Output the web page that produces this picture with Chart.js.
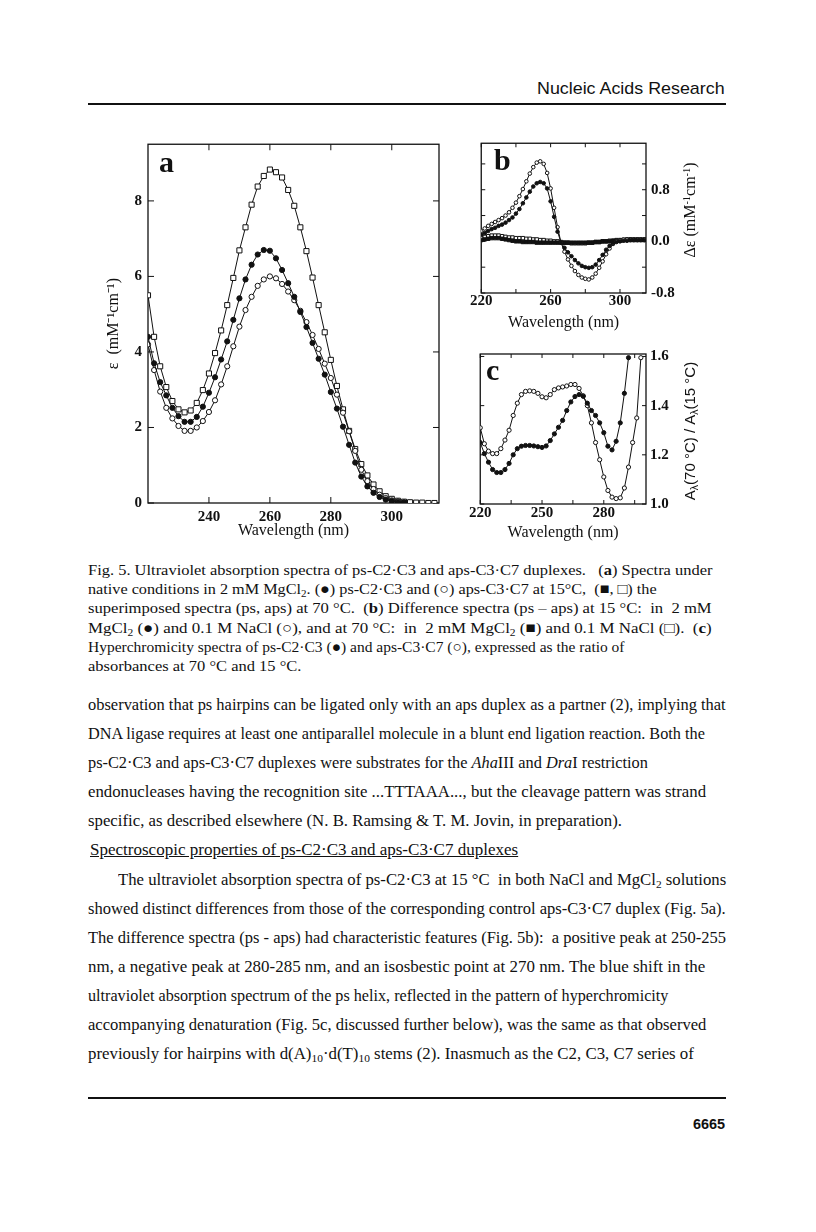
<!DOCTYPE html>
<html>
<head>
<meta charset="utf-8">
<title>Fig. 5 - UV spectra of ps-C2.C3 and aps-C3.C7</title>
<script src="https://cdn.jsdelivr.net/npm/chart.js@4.4.1/dist/chart.umd.min.js"></script>
<style>
  html, body { margin: 0; padding: 0; background: #fff; }
  body { position: relative; width: 816px; height: 1232px; overflow: hidden; color: #111;
         font-family: 'Liberation Serif', 'Times New Roman', serif; }
  canvas { position: absolute; }
  .ln { position: absolute; white-space: pre; line-height: 1; transform-origin: 0 0; }
  .ln sub { font-size: 0.68em; vertical-align: -0.3em; line-height: 0; }
  .cap { font-size: 15.5px; }
  .body { font-size: 16.5px; }
  .sans { font-family: 'Liberation Sans', Arial, sans-serif; }
  .head { font-size: 17px; }
  .pnum { font-size: 14px; font-weight: bold; }
  .plab { font-size: 30px; font-weight: bold; }
  .rule { position: absolute; left: 88px; width: 638px; height: 2px; background: #111; }
  .ytitle { position: absolute; white-space: nowrap; font-size: 16px; line-height: 18px;
            transform: translate(-50%, -50%) rotate(-90deg); }
  .ytitle sup { font-size: 0.65em; vertical-align: 0.5em; line-height: 0; }
  .ytitle sub { font-size: 0.7em; vertical-align: -0.3em; line-height: 0; }
</style>
</head>
<body>

<div class="ln sans head" data-x="537" data-b="94" data-r="725">Nucleic Acids Research</div>
<div class="rule" style="top:103px"></div>

<canvas id="chartA" width="350" height="410" style="left:100px;top:130px"></canvas>
<canvas id="chartB" width="230" height="202" style="left:470px;top:130px"></canvas>
<canvas id="chartC" width="232" height="202" style="left:468px;top:340px"></canvas>

<div class="ln plab" data-x="159" data-b="172">a</div>
<div class="ln plab" data-x="494" data-b="170">b</div>
<div class="ln plab" data-x="486" data-b="380">c</div>

<div class="ytitle" style="left:690px;top:210px">Δε  (mM<sup>-1</sup>cm<sup>-1</sup>)</div>
<div class="ytitle sans" style="left:690px;top:431px;font-size:15px">A<sub>λ</sub>(70 °C) / A<sub>λ</sub>(15 °C)</div>

<div class="ln cap" data-x="88" data-b="575" data-r="712">Fig. 5. Ultraviolet absorption spectra of ps-C2·C3 and aps-C3·C7 duplexes.   (<b>a</b>) Spectra under</div>
<div class="ln cap" data-x="88" data-b="594" data-r="657">native conditions in 2 mM MgCl<sub>2</sub>. (●) ps-C2·C3 and (○) aps-C3·C7 at 15°C,  (■, □) the</div>
<div class="ln cap" data-x="88" data-b="613" data-r="712">superimposed spectra (ps, aps) at 70 °C.  (<b>b</b>) Difference spectra (ps – aps) at 15 °C:  in  2 mM</div>
<div class="ln cap" data-x="88" data-b="633" data-r="712">MgCl<sub>2</sub> (●) and 0.1 M NaCl (○), and at 70 °C:  in  2 mM MgCl<sub>2</sub> (■) and 0.1 M NaCl (□).  (<b>c</b>)</div>
<div class="ln cap" data-x="88" data-b="652">Hyperchromicity spectra of ps-C2·C3 (●) and aps-C3·C7 (○), expressed as the ratio of</div>
<div class="ln cap" data-x="88" data-b="671" data-r="302">absorbances at 70 °C and 15 °C.</div>

<div class="ln body" data-x="88" data-b="711" data-r="726">observation that ps hairpins can be ligated only with an aps duplex as a partner (2), implying that</div>
<div class="ln body" data-x="88" data-b="740" data-r="705">DNA ligase requires at least one antiparallel molecule in a blunt end ligation reaction. Both the</div>
<div class="ln body" data-x="88" data-b="769" data-r="648">ps-C2·C3 and aps-C3·C7 duplexes were substrates for the <i>Aha</i>III and <i>Dra</i>I restriction</div>
<div class="ln body" data-x="88" data-b="798" data-r="706">endonucleases having the recognition site ...TTTAAA..., but the cleavage pattern was strand</div>
<div class="ln body" data-x="88" data-b="827" data-r="622">specific, as described elsewhere (N. B. Ramsing &amp; T. M. Jovin, in preparation).</div>
<div class="ln body" data-x="90" data-b="856" data-r="518"><u>Spectroscopic properties of ps-C2·C3 and aps-C3·C7 duplexes</u></div>
<div class="ln body" data-x="118" data-b="886" data-r="726">The ultraviolet absorption spectra of ps-C2·C3 at 15 °C  in both NaCl and MgCl<sub>2</sub> solutions</div>
<div class="ln body" data-x="88" data-b="915" data-r="726">showed distinct differences from those of the corresponding control aps-C3·C7 duplex (Fig. 5a).</div>
<div class="ln body" data-x="88" data-b="944" data-r="726">The difference spectra (ps - aps) had characteristic features (Fig. 5b):  a positive peak at 250-255</div>
<div class="ln body" data-x="88" data-b="973" data-r="705">nm, a negative peak at 280-285 nm, and an isosbestic point at 270 nm. The blue shift in the</div>
<div class="ln body" data-x="88" data-b="1002" data-r="668">ultraviolet absorption spectrum of the ps helix, reflected in the pattern of hyperchromicity</div>
<div class="ln body" data-x="88" data-b="1031" data-r="706">accompanying denaturation (Fig. 5c, discussed further below), was the same as that observed</div>
<div class="ln body" data-x="88" data-b="1060" data-r="694">previously for hairpins with d(A)<sub>10</sub>·d(T)<sub>10</sub> stems (2). Inasmuch as the C2, C3, C7 series of</div>

<div class="rule" style="top:1097px"></div>
<div class="ln sans pnum" data-x="693" data-b="1129" data-r="725">6665</div>

<script>
// wavelengths (nm), 2 nm steps
var wavelengths = [220,222,224,226,228,230,232,234,236,238,240,242,244,246,248,250,252,254,256,258,
                   260,262,264,266,268,270,272,274,276,278,280,282,284,286,288,290,292,294,296,298,
                   300,302,304,306,308,310,312,314];
var wavelengthsC = [220,222,224,226,228,230,232,234,236,238,240,242,244,246,248,250,252,254,256,258,
                    260,262,264,266,268,270,272,274,276,278,280,282,284,286,288,290,292,294,296,298];

// (a) epsilon, mM-1 cm-1, 2 mM MgCl2
var a70 = [5.5,4.4,3.62,3.07,2.7,2.48,2.4,2.45,2.65,2.99,3.43,3.97,4.57,5.24,5.96,6.69,7.3,7.9,8.38,8.66,
           8.83,8.76,8.62,8.29,7.87,7.3,6.67,5.97,5.24,4.52,3.79,3.1,2.48,1.91,1.43,1.03,0.73,0.49,0.31,0.18,
           0.11,0.06,0.035,0.02,0.01,0.01,0.0,0.0];
var aPs15 = [4.4,3.7,3.2,2.85,2.52,2.3,2.15,2.15,2.28,2.55,2.92,3.33,3.8,4.28,4.85,5.42,5.92,6.31,6.58,6.7,
             6.68,6.48,6.17,5.82,5.46,5.06,4.66,4.24,3.82,3.4,2.94,2.5,2.02,1.54,1.07,0.7,0.44,0.27,0.16,0.09,
             0.05,0.02,0.01];
var aAps15 = [4.2,3.52,2.95,2.52,2.24,2.04,1.91,1.91,2.0,2.17,2.41,2.72,3.14,3.62,4.15,4.67,5.11,5.46,5.75,5.92,
              6.0,5.95,5.8,5.6,5.37,5.09,4.79,4.45,4.08,3.69,3.31,2.87,2.39,1.9,1.38,0.88,0.58,0.37,0.22,0.13,
              0.07,0.04,0.02];
var aXTicks = [240,260,280,300];
var aYTicks = [0,2,4,6,8];

// (b) difference spectra ps - aps
var bMg15 = [0.1,0.13,0.16,0.19,0.21,0.24,0.26,0.29,0.33,0.37,0.43,0.5,0.59,0.68,0.77,0.85,0.9,0.92,0.9,0.82,
             0.62,0.38,0.15,-0.02,-0.1,-0.17,-0.23,-0.29,-0.34,-0.38,-0.4,-0.41,-0.4,-0.36,-0.29,-0.21,-0.13,-0.07,-0.03,-0.01,
             0.0,0.01,0.01,0.02,0.02,0.02,0.02,0.02];
var bNa15 = [0.16,0.2,0.24,0.27,0.3,0.33,0.36,0.4,0.45,0.52,0.6,0.7,0.81,0.93,1.05,1.15,1.22,1.24,1.2,1.06,
             0.82,0.52,0.22,-0.02,-0.16,-0.28,-0.38,-0.46,-0.52,-0.56,-0.58,-0.59,-0.56,-0.5,-0.41,-0.31,-0.2,-0.11,-0.04,0.0,
             0.02,0.03,0.03,0.03,0.03,0.03,0.03,0.03];
var bMg70 = [0.02,0.03,0.04,0.05,0.05,0.05,0.04,0.03,0.02,0.01,0.0,0.0,-0.01,-0.01,-0.01,-0.01,-0.02,-0.02,-0.02,-0.02,
             -0.02,-0.02,-0.02,-0.02,-0.02,-0.02,-0.02,-0.02,-0.02,-0.02,-0.02,-0.02,-0.02,-0.01,-0.01,0.0,0.0,0.0,0.01,0.01,
             0.01,0.02,0.02,0.02,0.02,0.02,0.02,0.02];
var bNa70 = [0.06,0.07,0.08,0.09,0.09,0.09,0.08,0.07,0.06,0.06,0.05,0.05,0.05,0.04,0.04,0.03,0.03,0.02,0.02,0.01,
             0.01,0.0,0.0,-0.01,-0.02,-0.02,-0.03,-0.03,-0.03,-0.03,-0.03,-0.02,-0.02,-0.01,-0.01,0.0,0.0,0.01,0.01,0.02,
             0.02,0.02,0.03,0.03,0.03,0.03,0.03,0.03];
var bXTicks = [220,240,260,280,300];
var bXLabels = [220,260,300];
var bYTicks = [-0.8,-0.4,0,0.4,0.8,1.2];
var bYLabels = [-0.8,0,0.8];

// (c) hyperchromicity A(70 C)/A(15 C)
var cPs = [1.25,1.205,1.17,1.14,1.128,1.128,1.14,1.165,1.2,1.225,1.235,1.238,1.238,1.236,1.233,1.23,1.236,1.258,1.285,1.312,
           1.34,1.38,1.415,1.437,1.445,1.438,1.41,1.38,1.36,1.33,1.29,1.235,1.22,1.255,1.33,1.45,1.595];
var cAps = [1.31,1.245,1.215,1.205,1.205,1.225,1.26,1.3,1.36,1.41,1.445,1.458,1.46,1.458,1.45,1.436,1.432,1.445,1.465,1.472,
            1.476,1.48,1.486,1.486,1.47,1.44,1.4,1.33,1.25,1.18,1.11,1.055,1.028,1.022,1.025,1.065,1.15,1.25,1.35,1.595];
var cXTicks = [220,235,250,265,280,295];
var cXLabels = [220,250,280];
var cYTicks = [1.0,1.2,1.4,1.6];

var ink = '#111';
var serif = "'Liberation Serif', 'Times New Roman', serif";
var tickFont = {family: serif, size: 15, weight: 'bold', lineHeight: 1.1};

// place the page text lines, squeeze each one to the width of the scan
document.querySelectorAll('.ln').forEach(function(el) {
  var fs = parseFloat(getComputedStyle(el).fontSize);
  var k = el.classList.contains('sans') ? 0.8465 : 0.8375;
  el.style.left = el.dataset.x + 'px';
  el.style.top = (parseFloat(el.dataset.b) - k * fs) + 'px';
  if (el.dataset.r) {
    var w = el.offsetWidth;
    el.style.transform = 'scaleX(' + ((el.dataset.r - el.dataset.x) / w).toFixed(4) + ')';
  }
});

// box round the plot with inward tick marks on all four sides
var frameTicks = {
  id: 'frameTicks',
  beforeDatasetsDraw: function(chart, args, opts) {
    var ctx = chart.ctx, a = chart.chartArea, len = opts.len || 5;
    var xs = chart.scales.x, ys = chart.scales.y;
    ctx.save();
    ctx.strokeStyle = ink;
    ctx.lineWidth = 1;
    ctx.beginPath();
    xs.ticks.forEach(function(t) {
      var p = xs.getPixelForValue(t.value);
      ctx.moveTo(p, a.bottom); ctx.lineTo(p, a.bottom - len);
      ctx.moveTo(p, a.top); ctx.lineTo(p, a.top + len);
    });
    ys.ticks.forEach(function(t) {
      var p = ys.getPixelForValue(t.value);
      ctx.moveTo(a.left, p); ctx.lineTo(a.left + len, p);
      ctx.moveTo(a.right, p); ctx.lineTo(a.right - len, p);
    });
    ctx.stroke();
    ctx.lineWidth = opts.lw || 1.3;
    ctx.strokeRect(a.left, a.top, a.right - a.left, a.bottom - a.top);
    ctx.restore();
  }
};

function hasValue(list, v) {
  return list.some(function(l) { return Math.abs(l - v) < 1e-9; });
}

function series(label, xs, ys, style, filled, r) {
  return {
    label: label,
    data: ys.map(function(y, i) { return {x: xs[i], y: y}; }),
    showLine: true, tension: 0,
    borderColor: ink, borderWidth: 1,
    pointStyle: style, pointRadius: r, pointBorderWidth: 1,
    pointBorderColor: ink,
    pointBackgroundColor: filled ? ink : '#fff'
  };
}

function xAxis(min, max, ticks, labels, h, pad) {
  return {
    type: 'linear', position: 'bottom', min: min, max: max,
    grid: {display: false, drawTicks: false}, border: {display: false},
    afterBuildTicks: function(s) { s.ticks = ticks.map(function(v) { return {value: v}; }); },
    afterFit: function(s) { s.height = h; },
    ticks: {
      autoSkip: false, maxRotation: 0, padding: pad, color: ink, font: tickFont,
      callback: function(v) { return hasValue(labels, v) ? String(v) : ''; }
    },
    title: {display: true, text: 'Wavelength (nm)', color: ink, padding: 0,
            font: {family: serif, size: 16, lineHeight: 1.1}}
  };
}

function yAxis(pos, min, max, ticks, labels, w, pad, fmt) {
  return {
    type: 'linear', position: pos, min: min, max: max,
    grid: {display: false, drawTicks: false}, border: {display: false},
    afterBuildTicks: function(s) { s.ticks = ticks.map(function(v) { return {value: v}; }); },
    afterFit: function(s) { s.width = w; },
    ticks: {
      autoSkip: false, padding: pad, color: ink, font: tickFont,
      callback: function(v) { return hasValue(labels, v) ? fmt(v) : ''; }
    }
  };
}

function baseOptions(padding, scales, tickLen) {
  return {
    responsive: false,
    animation: false,
    layout: {padding: padding},
    plugins: {legend: {display: false}, tooltip: {enabled: false}, frameTicks: {len: tickLen}},
    scales: scales
  };
}

// panel a
var yA = yAxis('left', 0, 9.5, aYTicks, aYTicks, 48, 6, function(v) { return String(v); });
yA.title = {display: true, text: 'ε  (mM⁻¹cm⁻¹)', color: ink, padding: {top: 4, bottom: 0},
            font: {family: serif, size: 16, lineHeight: 1.2}};
var xA = xAxis(220, 315.5, aXTicks, aXTicks, 37, 6);
xA.title.font = {family: serif, size: 16, lineHeight: 1.2};

new Chart(document.getElementById('chartA').getContext('2d'), {
  type: 'scatter',
  data: {
    datasets: [
      series('ps-C2·C3, 15 °C', wavelengths, aPs15, 'circle', true, 2.6),
      series('aps-C3·C7, 15 °C', wavelengths, aAps15, 'circle', false, 2.6),
      series('ps, aps, 70 °C', wavelengths, a70, 'rect', false, 3.6)
    ]
  },
  options: baseOptions({top: 12, right: 11, left: 0, bottom: 0}, {x: xA, y: yA}, 6),
  plugins: [frameTicks]
});

// panel b
new Chart(document.getElementById('chartB').getContext('2d'), {
  type: 'scatter',
  data: {
    datasets: [
      series('2 mM MgCl2, 15 °C', wavelengths, bMg15, 'circle', true, 1.8),
      series('0.1 M NaCl, 15 °C', wavelengths, bNa15, 'circle', false, 1.8),
      series('2 mM MgCl2, 70 °C', wavelengths, bMg70, 'rect', true, 2.4),
      series('0.1 M NaCl, 70 °C', wavelengths, bNa70, 'rect', false, 2.4)
    ]
  },
  options: baseOptions({top: 13, right: 0, left: 11, bottom: 0}, {
    x: xAxis(220, 315, bXTicks, bXLabels, 39, 0),
    y: yAxis('right', -0.8, 1.52, bYTicks, bYLabels, 54, 5, function(v) { return v.toFixed(1); })
  }, 4),
  plugins: [frameTicks]
});

// panel c
new Chart(document.getElementById('chartC').getContext('2d'), {
  type: 'scatter',
  data: {
    datasets: [
      series('ps-C2·C3', wavelengthsC, cPs, 'circle', true, 2.1),
      series('aps-C3·C7', wavelengthsC, cAps, 'circle', false, 2.1)
    ]
  },
  options: baseOptions({top: 14, right: 0, left: 10, bottom: 0}, {
    x: xAxis(220, 300.5, cXTicks, cXLabels, 38, 1),
    y: yAxis('right', 1.0, 1.61, cYTicks, cYTicks, 54, 4, function(v) { return v.toFixed(1); })
  }, 4),
  plugins: [frameTicks]
});
</script>
</body>
</html>
